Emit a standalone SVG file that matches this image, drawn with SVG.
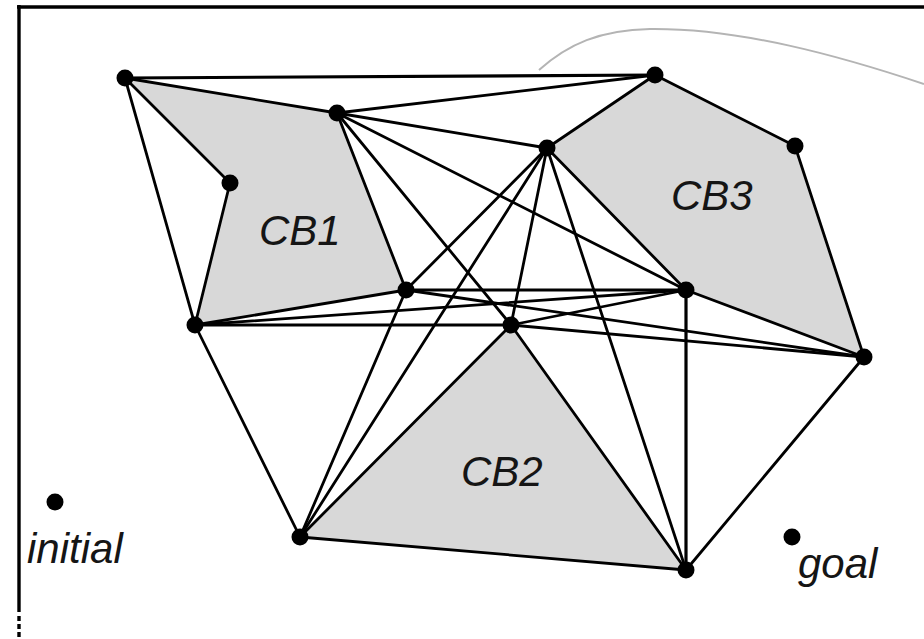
<svg xmlns="http://www.w3.org/2000/svg" width="924" height="639" viewBox="0 0 924 639">
  <style>
    .obst { fill: #d8d8d8; stroke: #000; stroke-width: 2.8; stroke-linejoin: round; }
    .edge { stroke: #000; stroke-width: 2.8; stroke-linecap: round; fill: none; }
    .axis { stroke: #000; stroke-width: 3.2; fill: none; }
    .vtx { fill: #000; }
    .lbl { font-family: "Liberation Sans", Arial, sans-serif; font-style: italic; font-size: 42px; fill: #151515; }
  </style>

  <rect x="0" y="0" width="924" height="639" fill="#fff"/>

  <!-- frame -->
  <g id="frame" stroke="#000" fill="none">
    <line x1="17" y1="7" x2="924" y2="7" stroke-width="3.6"/>
    <line x1="19" y1="5" x2="19" y2="612" stroke-width="3.4"/>
    <line x1="19" y1="616" x2="19" y2="639" stroke-width="3.4" stroke-dasharray="5 3"/>
  </g>

  <!-- faint arc -->
  <path id="arc" d="M539,70 C568,44 600,30 650,29 C740,28 840,56 924,84" fill="none" stroke="#b4b4b4" stroke-width="2"/>

  <!-- obstacles -->
  <g id="CB1">
    <polygon class="obst" points="125,78 337,113 406,290 195,325 230,183"/>
    <text class="lbl" x="259" y="245">CB1</text>
  </g>
  <g id="CB3">
    <polygon class="obst" points="547,148 655,75 795,146 864,357 686,290"/>
    <text class="lbl" x="671" y="210">CB3</text>
  </g>
  <g id="CB2">
    <polygon class="obst" points="511,325 686,570 300,537"/>
    <text class="lbl" x="461" y="486">CB2</text>
  </g>

  <!-- visibility edges -->
  <g id="connectors">
    <line class="axis" x1="125" y1="78" x2="655" y2="75"/>
    <line class="edge" x1="125" y1="78" x2="195" y2="325"/>
    <line class="edge" x1="337" y1="113" x2="655" y2="75"/>
    <line class="edge" x1="337" y1="113" x2="547" y2="148"/>
    <line class="edge" x1="337" y1="113" x2="686" y2="290"/>
    <line class="edge" x1="337" y1="113" x2="511" y2="325"/>
    <line class="edge" x1="547" y1="148" x2="406" y2="290"/>
    <line class="edge" x1="547" y1="148" x2="300" y2="537"/>
    <line class="edge" x1="547" y1="148" x2="511" y2="325"/>
    <line class="edge" x1="547" y1="148" x2="686" y2="570"/>
    <line class="axis" x1="406" y1="290" x2="686" y2="290"/>
    <line class="edge" x1="406" y1="290" x2="300" y2="537"/>
    <line class="edge" x1="406" y1="290" x2="864" y2="357"/>
    <line class="edge" x1="195" y1="325" x2="686" y2="290"/>
    <line class="axis" x1="195" y1="325" x2="511" y2="325"/>
    <line class="edge" x1="195" y1="325" x2="300" y2="537"/>
    <line class="edge" x1="511" y1="325" x2="686" y2="290"/>
    <line class="edge" x1="511" y1="325" x2="864" y2="357"/>
    <line class="axis" x1="686" y1="290" x2="686" y2="570"/>
    <line class="edge" x1="864" y1="357" x2="686" y2="570"/>
  </g>

  <!-- vertices -->
  <g id="nA"><circle class="vtx" cx="125" cy="78" r="8.5"/></g>
  <g id="nB"><circle class="vtx" cx="655" cy="75" r="8.5"/></g>
  <g id="nC"><circle class="vtx" cx="337" cy="113" r="8.5"/></g>
  <g id="nD"><circle class="vtx" cx="547" cy="148" r="8.5"/></g>
  <g id="nE"><circle class="vtx" cx="795" cy="146" r="8.5"/></g>
  <g id="nF"><circle class="vtx" cx="230" cy="183" r="8.5"/></g>
  <g id="nG"><circle class="vtx" cx="406" cy="290" r="8.5"/></g>
  <g id="nH"><circle class="vtx" cx="686" cy="290" r="8.5"/></g>
  <g id="nI"><circle class="vtx" cx="195" cy="325" r="8.5"/></g>
  <g id="nJ"><circle class="vtx" cx="511" cy="325" r="8.5"/></g>
  <g id="nK"><circle class="vtx" cx="864" cy="357" r="8.5"/></g>
  <g id="nL"><circle class="vtx" cx="300" cy="537" r="8.5"/></g>
  <g id="nM"><circle class="vtx" cx="686" cy="570" r="8.5"/></g>

  <!-- start and goal -->
  <g id="initial">
    <circle class="vtx" cx="55" cy="502" r="8.5"/>
    <text class="lbl" x="27" y="563">initial</text>
  </g>
  <g id="goal">
    <circle class="vtx" cx="792" cy="537" r="8.5"/>
    <text class="lbl" x="798" y="578">goal</text>
  </g>
</svg>
